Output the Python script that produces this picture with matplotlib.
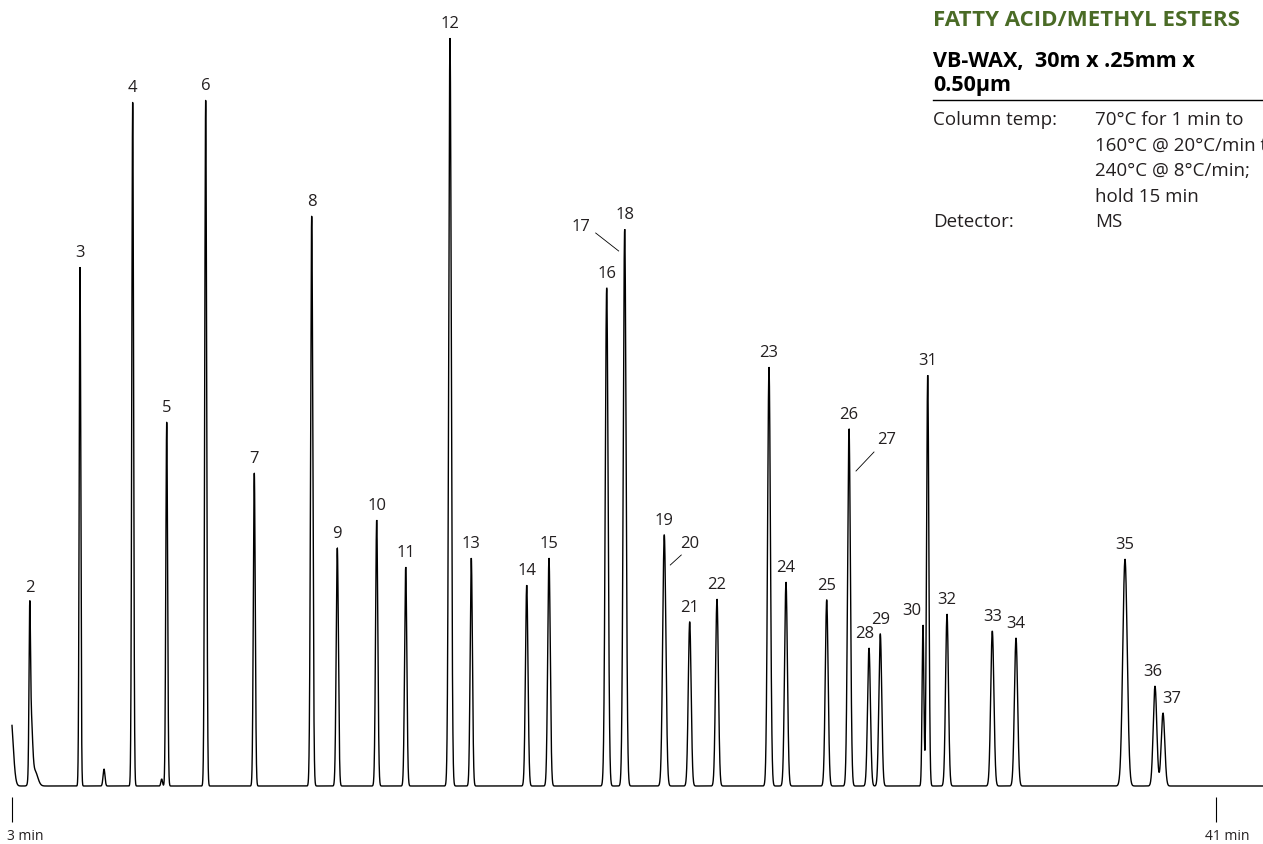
import numpy as np
import matplotlib
matplotlib.use("Agg")
import matplotlib.pyplot as plt

plt.rcParams['font.family'] = ['Open Sans', 'DejaVu Sans']

# peak table (retention time in min, height in detector units)
peak_labels = ['2', '3', '4', '5', '6', '7', '8', '9', '10', '11', '12', '13', '14',
               '15', '16', '18', '19', '21', '22', '23', '24', '25', '26', '28',
               '29', '30', '31', '32', '33', '34', '35', '36', '37']
peak_rt = [3.559, 5.146, 6.809, 7.883, 9.113, 10.647, 12.459, 13.267, 14.510,
           15.426, 16.824, 17.496, 19.245, 19.948, 21.769, 22.337, 23.587,
           24.389, 25.250, 26.892, 27.428, 28.713, 29.417, 30.048, 30.405,
           31.752, 31.901, 32.510, 33.940, 34.688, 38.128, 39.075, 39.327]
peak_height = [138, 519, 684, 364, 686, 313, 570, 238, 266, 219, 748, 228, 201,
               228, 498, 557, 251, 164, 187, 419, 204, 186, 357, 138, 152, 161,
               411, 172, 155, 148, 227, 100, 73]
peak_sigma = [0.022, 0.025, 0.028, 0.028, 0.030, 0.030, 0.035, 0.035, 0.035,
              0.035, 0.040, 0.035, 0.040, 0.040, 0.045, 0.045, 0.050, 0.045,
              0.045, 0.045, 0.045, 0.045, 0.045, 0.045, 0.045, 0.028, 0.036,
              0.045, 0.050, 0.050, 0.070, 0.056, 0.056]

# unlabelled signal: solvent front, tail of peak 2, two small bumps
minor_rt = [2.953, 3.600, 3.720, 5.904, 7.724]
minor_height = [72, 65, 15, 17, 7]
minor_sigma = [0.080, 0.045, 0.090, 0.030, 0.025]

# co-eluting peaks marked with a leader line next to their host peak
coelute_labels = ['17', '20', '27']
coelute_host = ['18', '19', '26']

t_start, t_end = 3, 41

W, H = 1263, 844
fig = plt.figure(figsize=(W / 100, H / 100), dpi=100)
ax = fig.add_axes([0, 0, 1, 1])
ax.set_axis_off()

px_per_min = 1204 / (t_end - t_start)
x_lo = t_start - 12 / px_per_min
x_hi = x_lo + W / px_per_min
y_top = 786
ax.set_xlim(x_lo, x_hi)
ax.set_ylim(y_top - H, y_top)

all_rt = np.array(peak_rt + minor_rt)
all_h = np.array(peak_height + minor_height)
all_s = np.array(peak_sigma + minor_sigma)


def trace(x):
    x = np.atleast_1d(x)[:, None]
    return (all_h * np.exp(-0.5 * ((x - all_rt) / all_s) ** 2)).sum(axis=1)


t = np.arange(t_start, x_hi, 0.002)
ax.plot(t, trace(t), color='black', lw=1.0, solid_joinstyle='miter')

# peak numbers, placed above the top of the summed trace
tops = trace(np.array(peak_rt))
label_shift = {'28': -4, '30': -11, '36': -2, '37': 9}
for lab, rt, h in zip(peak_labels, peak_rt, tops):
    ax.annotate(lab, (rt, h), xytext=(label_shift.get(lab, 0), 14),
                textcoords='offset pixels', ha='center', va='center',
                fontsize=12, color='#231f20')

# leader lines, offsets in pixels from host peak top: label, line start, line end
leaders = {'17': [(-44, 2), (-29, -4), (-6, -22)],
           '20': [(25, -9), (17, -20), (6, -30)],
           '27': [(38, -11), (25, -23), (7, -42)]}
for lab, host in zip(coelute_labels, coelute_host):
    i = peak_labels.index(host)
    rt, h = peak_rt[i], tops[i]
    (lx, ly), (ax0, ay0), (ax1, ay1) = leaders[lab]
    ax.text(rt + lx / px_per_min, h + ly, lab, ha='center', va='center',
            fontsize=12, color='#231f20')
    ax.plot([rt + ax0 / px_per_min, rt + ax1 / px_per_min], [h + ay0, h + ay1],
            color='black', lw=0.6)

# time markers
ax.vlines([t_start, t_end], y_top - 822, y_top - 797, color='black', lw=0.8)
ax.text(t_start - 5 / px_per_min, y_top - 836, '3 min', ha='left', va='center',
        fontsize=10, color='#231f20')
ax.text(t_end - 11 / px_per_min, y_top - 836, '41 min', ha='left', va='center',
        fontsize=10, color='#231f20')


# method panel
def fx(x):
    return x / W


def fy(y):
    return 1 - y / H


fig.text(fx(933), fy(21), 'FATTY ACID/METHYL ESTERS', fontsize=16,
         fontweight='bold', color='#4a6b26', va='center', ha='left')
fig.text(fx(933), fy(62), 'VB-WAX,  30m x .25mm x', fontsize=15.5,
         fontweight='bold', color='black', va='center', ha='left')
fig.text(fx(933), fy(86), '0.50µm', fontsize=15.5,
         fontweight='bold', color='black', va='center', ha='left')
fig.add_artist(plt.Line2D([fx(933), 1], [fy(100), fy(100)], color='black', lw=1.0))

rows = [('Column temp:', '70°C for 1 min to'),
        ('', '160°C @ 20°C/min to'),
        ('', '240°C @ 8°C/min;'),
        ('', 'hold 15 min'),
        ('Detector:', 'MS')]
for k, (key, val) in enumerate(rows):
    y = 120 + 25.5 * k
    fig.text(fx(933), fy(y), key, fontsize=13.5, color='#231f20', va='center')
    fig.text(fx(1095), fy(y), val, fontsize=13.5, color='#231f20', va='center')

fig.savefig('out.png', dpi=100)
